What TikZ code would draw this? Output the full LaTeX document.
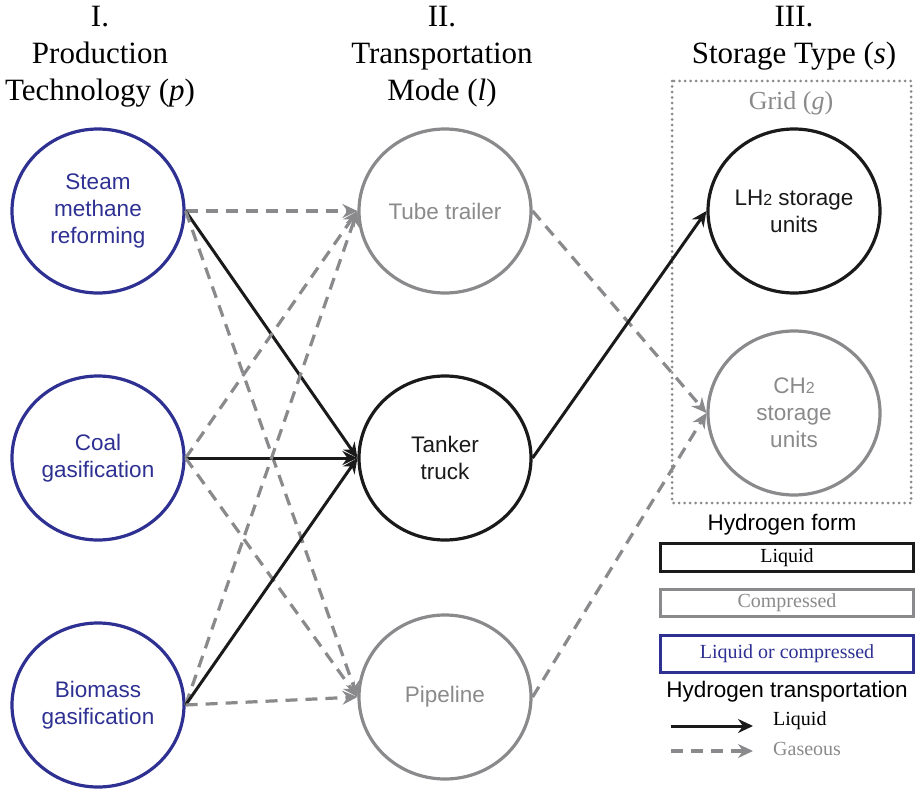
\documentclass[tikz,border=0pt]{standalone}
\usepackage{fontspec}
\setmainfont{Liberation Serif}
\setsansfont{Liberation Sans}
\usetikzlibrary{shapes.geometric,arrows.meta}
\definecolor{prodblue}{HTML}{2E3192}
\definecolor{gasgray}{HTML}{8A8A8C}
\definecolor{liqblack}{HTML}{1A1A1A}
\newcommand{\smalltwo}{{\fontsize{16}{16}\selectfont 2}}

\begin{document}
\begin{tikzpicture}[x = 1pt, y = -1pt,
  every node/.style = {inner sep=0pt},
  head/.style = {anchor=north, align=center, font=\fontsize{31}{37}\selectfont},
  mode/.style = {ellipse, draw, line width=3.2pt, minimum width=172, minimum height=164,
    align=center, font=\sffamily\fontsize{22.5}{27}\selectfont},
  prod/.style = {mode, draw=prodblue, text=prodblue},
  liq/.style = {mode, draw=liqblack, text=liqblack},
  gas/.style = {mode, draw=gasgray, text=gasgray},
  liqflow/.style = {draw=liqblack, line width=3pt, -{Stealth[length=15pt,width=14pt,inset=5pt]}},
  gasflow/.style = {draw=gasgray, line width=3.2pt, dash pattern=on 12pt off 8pt,
    -{Stealth[length=15pt,width=14pt,inset=5pt]}},
  key/.style = {rectangle, draw, line width=3pt, minimum width=253, font=\fontsize{20}{23}\selectfont},
  keytitle/.style = {font=\sffamily\fontsize{22.5}{27}\selectfont}]
\useasboundingbox (0,0) rectangle (916,792);

\node[head] (prodhd) at (100,6.5) {I.\\Production\\Technology (\textit{p})};
\node[head] (modehd) at (442,6.5) {II.\\Transportation\\Mode (\textit{l})};
\node[head] (storhd) at (794,6.5) {III.\\Storage Type (\textit{s})};

\draw[gasgray, line width=3pt, line cap=round, dash pattern=on 0pt off 5.5pt] (672,81) rectangle (911,503);
\node[anchor=base, text=gasgray, font=\fontsize{26}{30}\selectfont] (gridlbl) at (791,110) {Grid (\textit{g})};

\node[prod] (smr) at (98,211) {Steam\\methane\\reforming};
\node[prod] (coal) at (98,458) {Coal\\gasification};
\node[prod] (bio) at (98,705) {Biomass\\gasification};
\node[gas] (tube) at (445,211) {Tube trailer};
\node[liq] (tanker) at (445,458) {Tanker\\truck};
\node[gas] (pipe) at (445,697) {Pipeline};
\node[liq] (lh) at (794,211) {LH\smalltwo{} storage\\units};
\node[gas] (ch) at (794,413) {CH\smalltwo\\storage\\units};

\draw[gasflow] (smr.east) -- (tube.west);
\draw[liqflow] (smr.east) -- (tanker.west);
\draw[gasflow] (smr.east) -- (pipe.west);
\draw[gasflow] (coal.east) -- (tube.west);
\draw[liqflow] (coal.east) -- (tanker.west);
\draw[gasflow] (coal.east) -- (pipe.west);
\draw[gasflow] (bio.east) -- (tube.west);
\draw[liqflow] (bio.east) -- (tanker.west);
\draw[gasflow] (bio.east) -- (pipe.west);
\draw[gasflow] (tube.east) -- (ch.west);
\draw[liqflow] (tanker.east) -- (lh.west);
\draw[gasflow] (pipe.east) -- (ch.west);

\node[keytitle] (formlbl) at (782,525) {Hydrogen form};
\node[key, draw=liqblack, minimum height=28] (keyliq) at (787,557.5) {Liquid};
\node[key, draw=gasgray, text=gasgray, minimum height=27] (keygas) at (787,603) {Compressed};
\node[key, draw=prodblue, text=prodblue, minimum height=37] (keyboth) at (787,654) {Liquid or compressed};
\node[keytitle] (translbl) at (787,692) {Hydrogen transportation};

\coordinate (liqa) at (671,726);
\coordinate (liqb) at (753,726);
\coordinate (gasa) at (671,751);
\coordinate (gasb) at (753,751);
\draw[liqflow] (liqa) -- (liqb);
\draw[gasflow] (gasa) -- (gasb);
\node[anchor=west, font=\fontsize{20}{23}\selectfont] (liqtxt) at (773,721) {Liquid};
\node[anchor=west, text=gasgray, font=\fontsize{20}{23}\selectfont] (gastxt) at (773,749) {Gaseous};
\end{tikzpicture}
\end{document}
